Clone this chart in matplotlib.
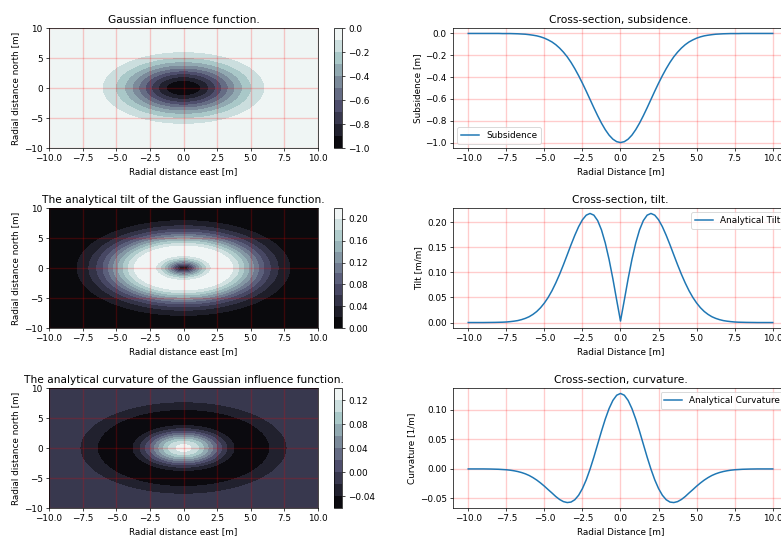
import numpy as np
import matplotlib
matplotlib.use("Agg")
import matplotlib.pyplot as plt

# Cross-section profiles, sampled every 0.25 m from the centre outwards.
# The cross-sections run along the diagonal, so the radial distance in the
# maps is sqrt(2) times the plotted coordinate.
dist = [0.0, 0.25, 0.5, 0.75, 1.0, 1.25, 1.5, 1.75, 2.0, 2.25, 2.5,
        2.75, 3.0, 3.25, 3.5, 3.75, 4.0, 4.25, 4.5, 4.75, 5.0,
        5.25, 5.5, 5.75, 6.0, 6.25, 6.5, 6.75, 7.0, 7.25, 7.5,
        7.75, 8.0, 8.25, 8.5, 8.75, 9.0, 9.25, 9.5, 9.75, 10.0]
subsidence = [-1.000, -0.992, -0.969, -0.932, -0.882, -0.822, -0.754, -0.681,
              -0.605, -0.529, -0.456, -0.387, -0.323, -0.265, -0.214, -0.171,
              -0.134, -0.103, -0.078, -0.059, -0.043, -0.031, -0.022, -0.016,
              -0.011, -0.007, -0.005, -0.003, -0.002, -0.001, -0.001, -0.001,
              0.000, 0.000, 0.000, 0.000, 0.000, 0.000, 0.000, 0.000, 0.000]
tilt = [0.003, 0.0445, 0.0869, 0.1254, 0.1582, 0.1843, 0.2028, 0.2136,
        0.2170, 0.2136, 0.2044, 0.1907, 0.1736, 0.1546, 0.1346, 0.1148,
        0.0960, 0.0788, 0.0633, 0.0500, 0.0388, 0.0295, 0.0220, 0.0162,
        0.0116, 0.0083, 0.0058, 0.0039, 0.0027, 0.0018, 0.0011, 0.0007,
        0.0005, 0.0003, 0.0002, 0.0001, 0.0, 0.0, 0.0, 0.0, 0.0]
curvature = [0.1280, 0.1250, 0.1162, 0.1024, 0.0845, 0.0639, 0.0419, 0.0200,
             -0.0004, -0.0185, -0.0333, -0.0446, -0.0522, -0.0562, -0.0570, -0.0554,
             -0.0518, -0.0468, -0.0408, -0.0351, -0.0292, -0.0238, -0.0189, -0.0147,
             -0.0111, -0.0083, -0.0061, -0.0044, -0.0031, -0.0021, -0.0014, -0.0010,
             -0.0006, -0.0004, -0.0002, -0.0001, 0.0, 0.0, 0.0, 0.0, 0.0]

DPI = 64
W_PX, H_PX = 781, 536


def mirrored(d, v):
    d = np.asarray(d); v = np.asarray(v)
    return np.concatenate([-d[::-1], d[1:]]), np.concatenate([v[::-1], v[1:]])


def radial_field(values, X, Y):
    r = np.hypot(X, Y) / np.sqrt(2.0)
    return np.interp(r, dist, values)


def fx(px):
    return px / W_PX


def fy(py):
    return 1 - py / H_PX


fig = plt.figure(figsize=(W_PX / DPI, H_PX / DPI), dpi=DPI)

grid_x = np.linspace(-10, 10, 401)
X, Y = np.meshgrid(grid_x, grid_x)

rows = [
    ("Gaussian influence function.", "Cross-section, subsidence.",
     subsidence, "Subsidence [m]", "Subsidence", "lower left"),
    ("The analytical tilt of the Gaussian influence function.", "Cross-section, tilt.",
     tilt, "Tilt [m/m]", "Analytical Tilt", "upper right"),
    ("The analytical curvature of the Gaussian influence function.", "Cross-section, curvature.",
     curvature, "Curvature [1/m]", "Analytical Curvature", "upper right"),
]

row_top = [28, 208, 388]
row_h = 120

for (map_title, cs_title, vals, ylab, leg, loc), top in zip(rows, row_top):
    bottom = fy(top + row_h)
    h = row_h / H_PX

    # map of the field
    ax = fig.add_axes([fx(49), bottom, fx(318 - 49), h])
    Z = radial_field(vals, X, Y)
    cs = ax.contourf(X, Y, Z, levels=10, cmap="bone")
    ax.set_title(map_title)
    ax.set_xlabel("Radial distance east [m]")
    ax.set_ylabel("Radial distance north [m]")
    ax.grid(color="r", alpha=0.2, linewidth=1.5)
    cax = fig.add_axes([fx(334), bottom, fx(8), h])
    fig.colorbar(cs, cax=cax)

    # cross-section
    ax2 = fig.add_axes([fx(453), bottom, fx(788 - 453), h])
    xs, ys = mirrored(dist, vals)
    ax2.plot(xs, ys, label=leg, linewidth=1.7)
    ax2.set_title(cs_title)
    ax2.set_xlabel("Radial Distance [m]")
    ax2.set_ylabel(ylab)
    ax2.legend(loc=loc)
    ax2.grid(color="r", alpha=0.2, linewidth=1.5)

fig.savefig("out.png", dpi=DPI)
